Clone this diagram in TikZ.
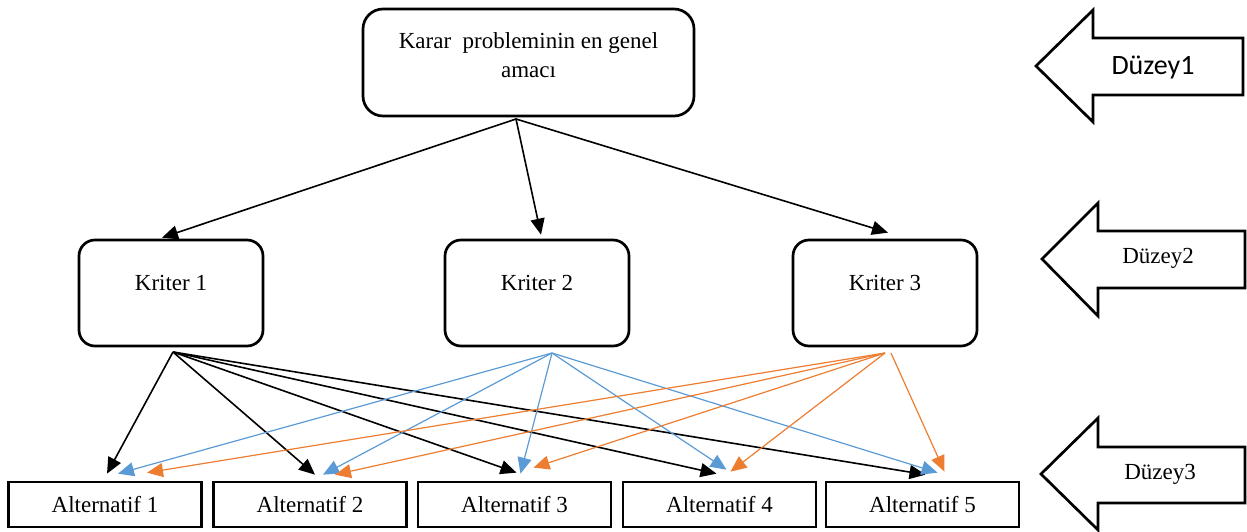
\documentclass[tikz,border=0pt]{standalone}
\usepackage{fontspec}
\setmainfont{Liberation Serif}
\newfontfamily\calibrifont{Carlito}
\usetikzlibrary{arrows.meta}

\definecolor{kblue}{RGB}{91,155,213}
\definecolor{korange}{RGB}{237,125,49}

\tikzset{
  goalbox/.style={draw, rounded corners=20pt, line width=2.7pt, minimum width=331pt, minimum height=107pt, align=center, text depth=14pt, font=\fontsize{23}{29}\selectfont},
  kriterbox/.style={draw, rounded corners=16pt, line width=2.7pt, minimum width=184pt, minimum height=106pt, text height=16pt, text depth=22pt, font=\fontsize{23}{28}\selectfont},
  altbox/.style={draw, line width=2.7pt, minimum width=193pt, minimum height=45pt, inner sep=0pt, font=\fontsize{23}{28}\selectfont},
  levelarrow/.style={draw, line width=2.7pt, line join=miter},
  tip/.style={-{Triangle[length=16pt,width=14pt]}},
  blackline/.style={tip, line width=1.6pt},
  blueline/.style={draw=kblue, line width=1.2pt, arrows={-{Triangle[length=16pt,width=14pt,fill=kblue]}}},
  orangeline/.style={draw=korange, line width=1.2pt, arrows={-{Triangle[length=16pt,width=14pt,fill=korange]}}}
}

\begin{document}
\begin{tikzpicture}[x=1pt, y=-1pt]
  \useasboundingbox (0,0) rectangle (1247,532);

  % boxes
  \node[goalbox] (goal) at (528.5,62.5) {Karar\ \ probleminin en genel\\amacı};

  \node[kriterbox] (k1) at (171,293) {Kriter 1};
  \node[kriterbox] (k2) at (537,293) {Kriter 2};
  \node[kriterbox] (k3) at (885,293) {Kriter 3};

  \node[altbox] (alt1) at (105,504.5) {Alternatif 1};
  \node[altbox] (alt2) at (310,504.5) {Alternatif 2};
  \node[altbox] (alt3) at (514.5,504.5) {Alternatif 3};
  \node[altbox] (alt4) at (719.5,504.5) {Alternatif 4};
  \node[altbox] (alt5) at (922.5,504.5) {Alternatif 5};

  % start points of the connectors
  \coordinate (goalout) at (516,119);
  \coordinate (k1out) at (173,352);
  \coordinate (k2out) at (552,353);
  \coordinate (k3out) at (885,353);

  % level 1 -> level 2
  \draw[blackline] (goalout) -- ([xshift=-9pt,yshift=1pt]k1.north);
  \draw[blackline] (goalout) -- ([xshift=4pt,yshift=4pt]k2.north);
  \draw[blackline] (goalout) -- ([xshift=3pt,yshift=6pt]k3.north);

  % level 2 -> level 3
  \draw[blackline] (k1out) -- ([xshift=2pt,yshift=7pt]alt1.north);
  \draw[blackline] (k1out) -- ([xshift=5pt,yshift=6pt]alt2.north);
  \draw[blackline] (k1out) -- ([xshift=2pt,yshift=8pt]alt3.north);
  \draw[blackline] (k1out) -- ([xshift=-3pt,yshift=7pt]alt4.north);
  \draw[blackline] (k1out) -- ([xshift=3pt,yshift=6pt]alt5.north);

  \draw[blueline] (k2out) -- ([xshift=13pt,yshift=7pt]alt1.north);
  \draw[blueline] (k2out) -- ([xshift=13pt,yshift=6pt]alt2.north);
  \draw[blueline] (k2out) -- ([xshift=6pt,yshift=7pt]alt3.north);
  \draw[blueline] (k2out) -- ([xshift=7pt,yshift=11pt]alt4.north);
  \draw[blueline] (k2out) -- ([xshift=15pt,yshift=8pt]alt5.north);

  \draw[orangeline] (k3out) -- ([xshift=42pt,yshift=8pt]alt1.north);
  \draw[orangeline] (k3out) -- ([xshift=25pt,yshift=6pt]alt2.north);
  \draw[orangeline] (k3out) -- ([xshift=19pt,yshift=13pt]alt3.north);
  \draw[orangeline] (k3out) -- ([xshift=11pt,yshift=9pt]alt4.north);
  \draw[orangeline] ([xshift=6pt]k3out) -- ([xshift=22pt,yshift=9pt]alt5.north);

  % level arrows
  \draw[levelarrow] (1036,66) -- (1093,10) -- (1093,38) -- (1243,38) -- (1243,95) -- (1093,95) -- (1093,122) -- cycle;
  \node[font=\calibrifont\fontsize{28}{32}\selectfont] (lvl1) at (1153,67) {Düzey1};

  \draw[levelarrow] (1042,259) -- (1098,203) -- (1098,231) -- (1245,231) -- (1245,288) -- (1098,288) -- (1098,316) -- cycle;
  \node[font=\fontsize{23}{28}\selectfont] (lvl2) at (1158,258) {Düzey2};

  \draw[levelarrow] (1041,474) -- (1098,418) -- (1098,447) -- (1245,447) -- (1245,503) -- (1098,503) -- (1098,530) -- cycle;
  \node[font=\fontsize{23}{28}\selectfont] (lvl3) at (1160,474) {Düzey3};
\end{tikzpicture}
\end{document}
